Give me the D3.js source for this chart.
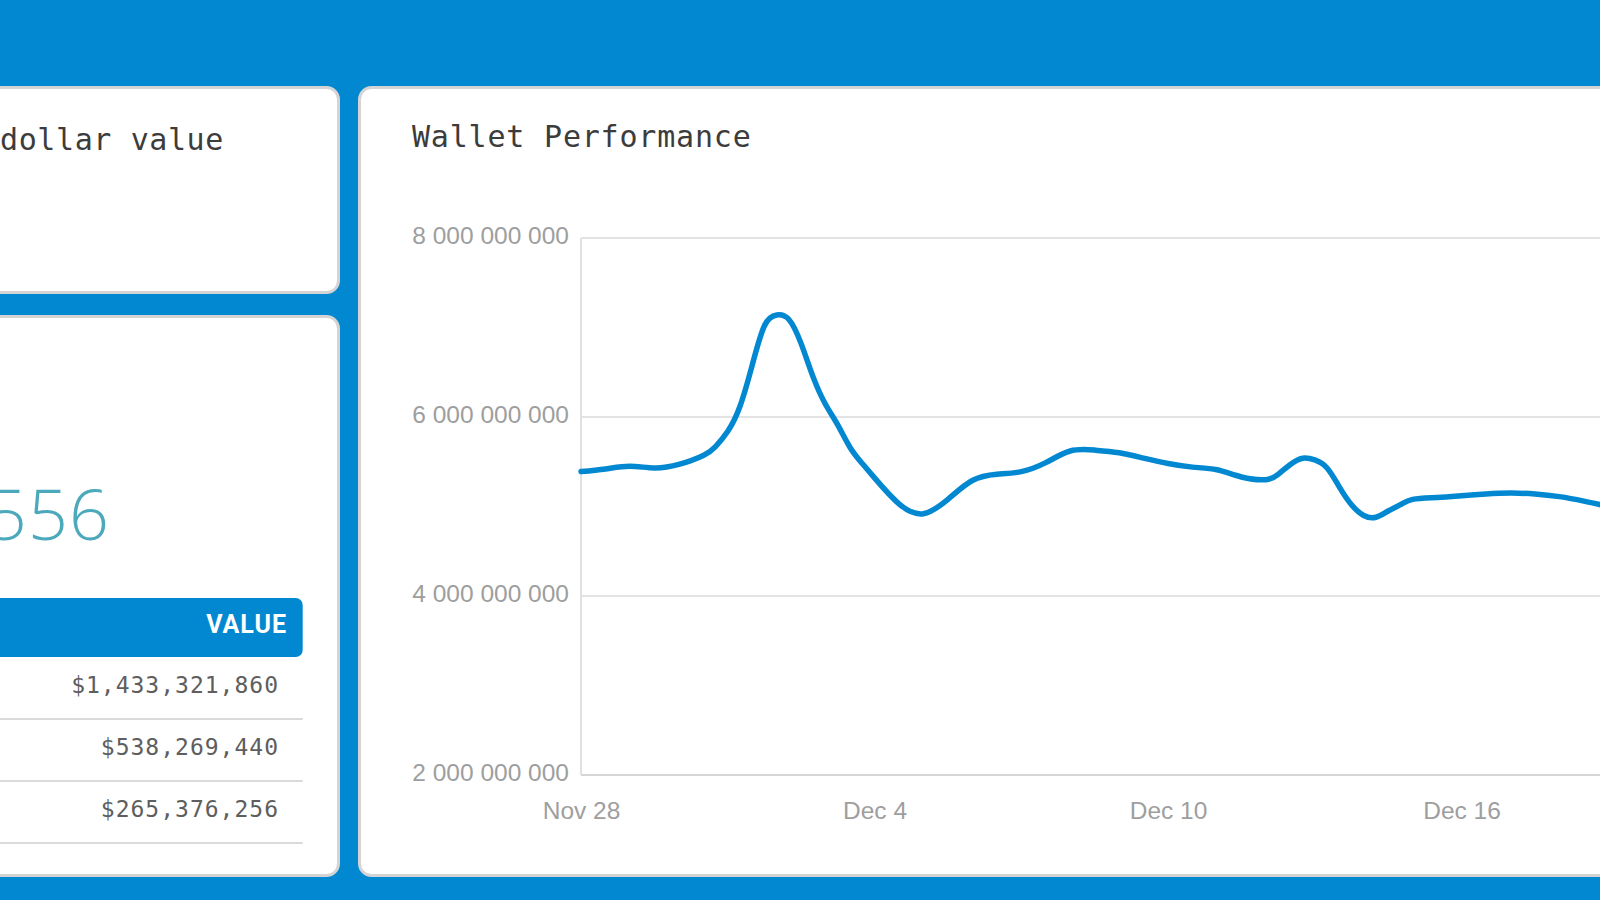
<!DOCTYPE html>
<html>
<head>
<meta charset="utf-8">
<script src="https://cdn.jsdelivr.net/npm/d3@7"></script>
<style>
  html, body { margin: 0; padding: 0; background: #0288d1; overflow: hidden; }
  svg { display: block; }
</style>
</head>
<body>
<svg id="chart" width="1600" height="900"></svg>
<script>
// ---------- data ----------
const cardTitle = "dollar value";
const chartTitle = "Wallet Performance";
const totalValue = 2236967556;
const tableHeader = "VALUE";
const rowValues = [1433321860, 538269440, 265376256];

const yTicks = [2e9, 4e9, 6e9, 8e9];
const xTicks = ["2017-11-28", "2017-12-04", "2017-12-10", "2017-12-16"];

const times = [
  "2017-11-28T00:00Z","2017-11-28T12:00Z","2017-11-29T00:00Z","2017-11-29T12:00Z",
  "2017-11-30T00:00Z","2017-11-30T12:00Z","2017-11-30T18:00Z",
  "2017-12-01T00:00Z","2017-12-01T06:00Z","2017-12-01T12:00Z","2017-12-01T18:00Z",
  "2017-12-02T00:00Z","2017-12-02T06:00Z","2017-12-02T12:00Z","2017-12-02T18:00Z",
  "2017-12-03T00:00Z","2017-12-03T06:00Z","2017-12-03T12:00Z","2017-12-03T18:00Z",
  "2017-12-04T00:00Z","2017-12-04T12:00Z","2017-12-05T00:00Z","2017-12-05T12:00Z",
  "2017-12-06T00:00Z","2017-12-06T12:00Z","2017-12-07T00:00Z","2017-12-07T12:00Z",
  "2017-12-08T00:00Z","2017-12-08T12:00Z","2017-12-09T00:00Z","2017-12-09T12:00Z",
  "2017-12-10T00:00Z","2017-12-10T12:00Z","2017-12-11T00:00Z","2017-12-11T12:00Z",
  "2017-12-12T00:00Z","2017-12-12T06:00Z","2017-12-12T12:00Z","2017-12-12T18:00Z",
  "2017-12-13T00:00Z","2017-12-13T06:00Z","2017-12-13T12:00Z","2017-12-13T18:00Z",
  "2017-12-14T00:00Z","2017-12-14T06:00Z","2017-12-14T12:00Z","2017-12-14T18:00Z",
  "2017-12-15T00:00Z","2017-12-15T12:00Z","2017-12-16T00:00Z","2017-12-16T12:00Z",
  "2017-12-17T00:00Z","2017-12-17T12:00Z","2017-12-18T00:00Z","2017-12-18T12:00Z",
  "2017-12-19T00:00Z"
];
const values = [
  5.39e9, 5.42e9, 5.45e9, 5.43e9,
  5.47e9, 5.57e9, 5.67e9,
  5.84e9, 6.12e9, 6.58e9, 7.02e9,
  7.14e9, 7.09e9, 6.82e9, 6.44e9,
  6.14e9, 5.91e9, 5.66e9, 5.48e9,
  5.32e9, 5.03e9, 4.92e9, 5.08e9,
  5.29e9, 5.36e9, 5.39e9, 5.49e9,
  5.62e9, 5.63e9, 5.60e9, 5.54e9,
  5.48e9, 5.44e9, 5.41e9, 5.33e9,
  5.30e9, 5.36e9, 5.47e9, 5.54e9,
  5.52e9, 5.43e9, 5.22e9, 5.02e9,
  4.90e9, 4.88e9, 4.95e9, 5.02e9,
  5.08e9, 5.10e9, 5.12e9, 5.14e9,
  5.15e9, 5.14e9, 5.11e9, 5.06e9,
  5.00e9
];

// ---------- drawing ----------
const BLUE = "#0288d1";
const svg = d3.select("#chart");

svg.append("rect").attr("width", 1600).attr("height", 900).attr("fill", BLUE);

function card(x, y, w, h) {
  svg.append("rect")
    .attr("x", x).attr("y", y).attr("width", w).attr("height", h)
    .attr("rx", 12).attr("ry", 12)
    .attr("fill", "#fff").attr("stroke", "#d4d4d4").attr("stroke-width", 3);
}
card(-40, 87.5, 378.5, 205);
card(-40, 316.5, 378.5, 559);
card(359.5, 87.5, 1400, 788);

const mono = "'DejaVu Sans Mono', 'Liberation Mono', monospace";

// left card titles
svg.append("text")
  .attr("x", 0).attr("y", 150)
  .style("font-family", mono).style("font-size", "30px")
  .style("letter-spacing", "0.6px").attr("fill", "#3c3c3c")
  .text(cardTitle);

svg.append("text")
  .attr("x", 110).attr("y", 540)
  .attr("text-anchor", "end")
  .style("font-family", "'Open Sans', Lato, sans-serif").style("font-weight", 300)
  .style("font-size", "70px").style("letter-spacing", "1px").attr("fill", "#4ba9bb")
  .text(d3.format(",")(totalValue));

// table
svg.append("rect")
  .attr("x", -40).attr("y", 598).attr("width", 342.7).attr("height", 59)
  .attr("rx", 7).attr("ry", 7).attr("fill", BLUE);
svg.append("text")
  .attr("x", 287).attr("y", 633)
  .attr("text-anchor", "end")
  .style("font-family", "Roboto, 'DejaVu Sans', sans-serif").style("font-weight", 700)
  .style("font-size", "25px").style("letter-spacing", "1px")
  .attr("fill", "#fff")
  .text(tableHeader);

const rowBase = d3.scaleLinear().domain([0, 1]).range([693, 755]);
const rows = svg.append("g");
rows.selectAll("text").data(rowValues).join("text")
  .attr("x", 279).attr("y", (d, i) => rowBase(i))
  .attr("text-anchor", "end")
  .style("font-family", mono).style("font-size", "23px")
  .style("letter-spacing", "1px").attr("fill", "#5e5e5e")
  .text(d => d3.format("$,")(d));
rows.selectAll("line").data(rowValues).join("line")
  .attr("x1", -40).attr("x2", 302.7)
  .attr("y1", (d, i) => rowBase(i) + 26).attr("y2", (d, i) => rowBase(i) + 26)
  .attr("stroke", "#dadada").attr("stroke-width", 2);

// chart title
svg.append("text")
  .attr("x", 412).attr("y", 147)
  .style("font-family", mono).style("font-size", "30px")
  .style("letter-spacing", "0.8px").attr("fill", "#3c3c3c")
  .text(chartTitle);

// scales
const parse = s => new Date(s);
const plotLeft = 581, pxPerDay = 48.92;
const x = d3.scaleUtc()
  .domain([parse("2017-11-28T00:00Z"), parse("2017-12-19T00:00Z")])
  .range([plotLeft, plotLeft + 21 * pxPerDay]);
const y = d3.scaleLinear().domain([2e9, 8e9]).range([775, 238]);

const locale = d3.formatLocale({ decimal: ".", thousands: " ", grouping: [3], currency: ["$", ""] });
const yFmt = locale.format(",");

// gridlines
const grid = svg.append("g");
grid.selectAll("line").data(yTicks).join("line")
  .attr("x1", plotLeft).attr("x2", 1700)
  .attr("y1", d => y(d)).attr("y2", d => y(d))
  .attr("stroke", d => d === 2e9 ? "#d6d6d6" : "#e3e3e3").attr("stroke-width", 2);
svg.append("line")
  .attr("x1", plotLeft).attr("x2", plotLeft)
  .attr("y1", y(8e9)).attr("y2", y(2e9))
  .attr("stroke", "#e0e0e0").attr("stroke-width", 2);

// axes
const axisFont = "'Liberation Sans', Arial, sans-serif";
const yAxis = svg.append("g")
  .attr("transform", `translate(${plotLeft},0)`)
  .call(d3.axisLeft(y).tickValues(yTicks).tickSize(0).tickPadding(12).tickFormat(yFmt));
yAxis.select(".domain").remove();
yAxis.selectAll("text")
  .attr("dy", "0.24em")
  .style("font-family", axisFont).style("font-size", "24.5px").attr("fill", "#9e9e9e");

const xAxis = svg.append("g")
  .attr("transform", `translate(0,${y(2e9)})`)
  .call(d3.axisBottom(x).tickValues(xTicks.map(s => parse(s + "T00:00Z")))
    .tickSize(0).tickPadding(27).tickFormat(d3.utcFormat("%b %-d")));
xAxis.select(".domain").remove();
xAxis.selectAll("text")
  .style("font-family", axisFont).style("font-size", "24.5px").attr("fill", "#9e9e9e");

// line
const series = times.map((t, i) => ({ t: parse(t), v: values[i] }));
const line = d3.line()
  .x(d => x(d.t)).y(d => y(d.v))
  .curve(d3.curveNatural);
svg.append("path")
  .datum(series)
  .attr("d", line)
  .attr("fill", "none")
  .attr("stroke", BLUE)
  .attr("stroke-width", 5.5)
  .attr("stroke-linejoin", "round")
  .attr("stroke-linecap", "round");
</script>
</body>
</html>
